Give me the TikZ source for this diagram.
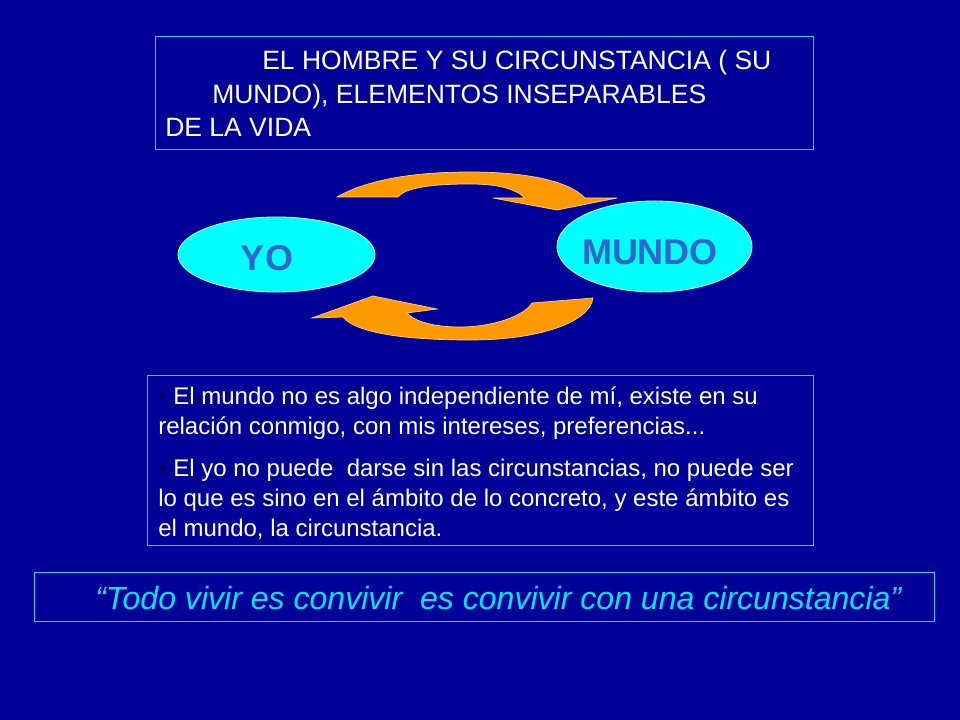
\documentclass[tikz,border=0pt]{standalone}
\usepackage{fontspec}
\setmainfont{Liberation Sans}
\usepackage{tikz}
\usetikzlibrary{positioning,shapes.geometric}
\definecolor{slideblue}{RGB}{0,0,153}
\definecolor{framecyan}{RGB}{51,204,255}
\definecolor{egocyan}{RGB}{0,255,255}
\definecolor{egotext}{RGB}{51,102,204}
\definecolor{arroworange}{RGB}{255,153,0}
\definecolor{dotblue}{RGB}{0,0,90}
\definecolor{quotecyan}{RGB}{0,230,255}
\tikzstyle{frame}=[%
      rectangle, draw=framecyan, line width=0.7pt, fill=none, anchor=north west, inner sep=0pt
]
\tikzstyle{ego}=[%
      ellipse, draw=white!70!egocyan, line width=0.6pt, fill=egocyan, inner sep=0pt
]
\tikzstyle{egolabel}=[%
      text=egotext, font=\fontsize{25.6pt}{30pt}\selectfont\bfseries, inner sep=0pt
]
\tikzstyle{turnarrow}=[%
      fill=arroworange, draw=white!55!arroworange, line width=0.5pt
]
\tikzstyle{txt}=[%
      text=white, anchor=north west, inner sep=0pt, align=left
]
\newcommand{\dotmark}{{\color{dotblue}\textbullet}}

\begin{document}
\begin{tikzpicture}[x=0.025cm, y=-0.025cm]
    \fill[slideblue] (0,0) rectangle (960,720);
    \useasboundingbox (0,0) rectangle (960,720);

    % heading
    \node[frame, minimum width=16.45cm, minimum height=2.825cm] (titlebox) at (155,36) {};
    \node[txt, font=\fontsize{18.85pt}{23.8pt}\selectfont] (title) at (165,46)
      {\strut\hspace*{69pt}EL HOMBRE Y SU CIRCUNSTANCIA ( SU\\
       \hspace*{33.4pt}MUNDO), ELEMENTOS INSEPARABLES\\
       DE LA VIDA};

    % yo and mundo
    \node[ego, minimum width=4.925cm, minimum height=1.875cm] (yo) at (276.5,254.5) {};
    \node[ego, minimum width=4.875cm, minimum height=2.275cm] (mundo) at (654.5,246.5) {};
    \node[egolabel] (yolabel) at (267,258) {YO};
    \node[egolabel] (mundolabel) at (650,252) {MUNDO};

    \draw[turnarrow] (337,197) .. controls (370,178) and (420,172) .. (470,172)
      .. controls (530,172) and (570,182) .. (585,198) -- (617,198) -- (557,210)
      -- (493,198) -- (525,198) .. controls (515,188) and (495,184) .. (470,184)
      .. controls (430,184) and (405,188) .. (398,197) -- cycle;
    \draw[turnarrow] (593,298) .. controls (590,322) and (540,340) .. (470,340)
      .. controls (400,340) and (355,332) .. (343,317) -- (312,318) -- (373,296)
      -- (437,309) -- (407,313) .. controls (415,322) and (435,327) .. (460,327)
      .. controls (495,327) and (525,315) .. (532,303) -- cycle;

    % explanation
    \node[frame, minimum width=16.65cm, minimum height=4.25cm] (notebox) at (147,375) {};
    \node[txt, font=\fontsize{17.07pt}{21.34pt}\selectfont] (notes) at (158,383)
      {\strut\dotmark{} El mundo no es algo independiente de mí, existe en su\\
       relación conmigo, con mis intereses, preferencias...\\[8.5pt]
       \dotmark{} El yo no puede\ \ darse sin las circunstancias, no puede ser\\
       lo que es sino en el ámbito de lo concreto, y este ámbito es\\
       el mundo, la circunstancia.};

    % quote
    \node[frame, minimum width=22.5cm, minimum height=1.225cm] (quotebox) at (34,572) {};
    \node[text=quotecyan, anchor=base west, inner sep=0pt,
      font=\fontsize{22.8pt}{27pt}\selectfont\itshape] (quote) at (95,609.5)
      {“Todo vivir es convivir\ \ es convivir con una circunstancia”};
\end{tikzpicture}
\end{document}
